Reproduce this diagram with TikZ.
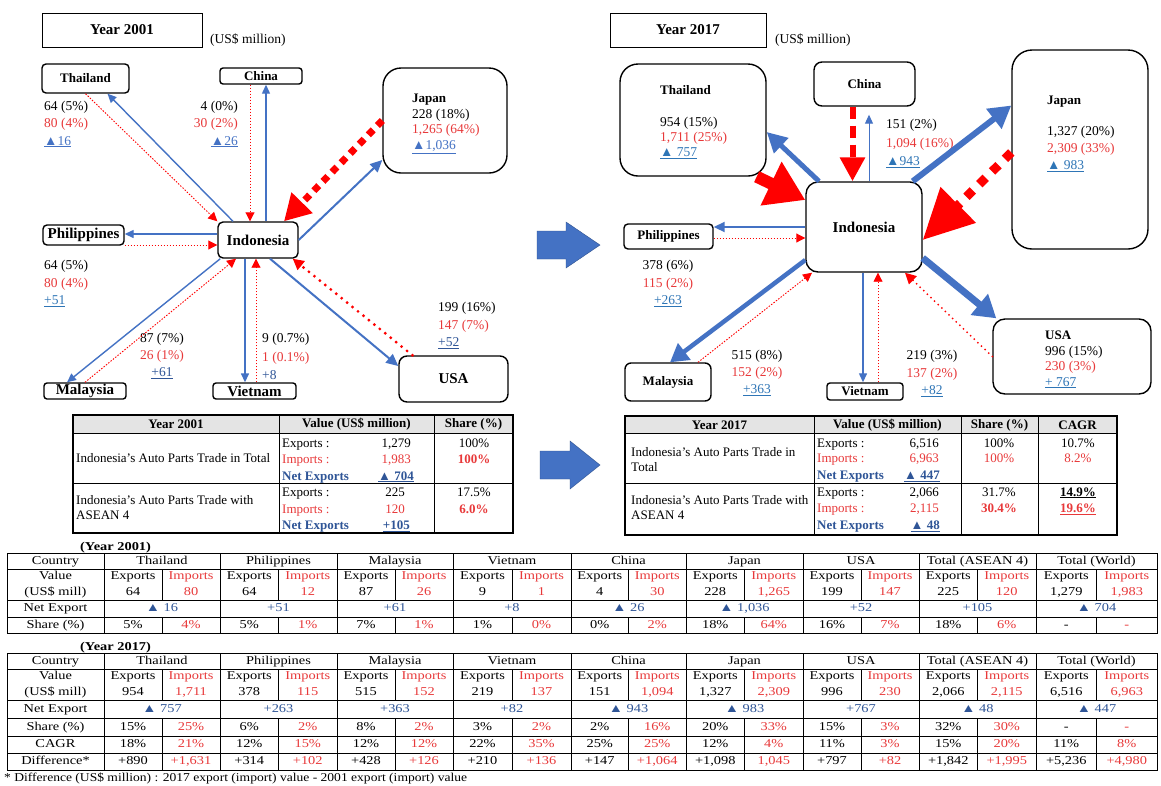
\documentclass[tikz,border=0pt]{standalone}
\usepackage{fontspec}
\setmainfont{Liberation Serif}
\newfontfamily\tblfont[FakeStretch=1.2]{Liberation Serif}
\newfontfamily\ftfont[FakeStretch=1.13]{Liberation Serif}
\usetikzlibrary{arrows.meta,calc}
\definecolor{ablue}{HTML}{4472C4}
\definecolor{ared}{HTML}{FF0000}
\definecolor{tred}{HTML}{E8393A}
\definecolor{tblue}{HTML}{2F5597}
\definecolor{lblue}{HTML}{2E75B6}
\definecolor{hgray}{HTML}{E4E4E4}
\definecolor{bdark}{HTML}{2F528F}
\newcommand\tri{▲}
\newcommand\stkl[1]{\begin{tabular}[t]{@{}l@{}}#1\end{tabular}}
\newcommand\stkr[1]{\begin{tabular}[t]{@{}r@{}}#1\end{tabular}}
\newcommand\stkc[1]{\begin{tabular}[t]{@{}c@{}}#1\end{tabular}}
\tikzset{
 cbox/.style={draw, line width=1.4pt, rounded corners=4pt, inner sep=0pt, fill=white, font=\bfseries\fontsize{13}{15}\selectfont},
 pbox/.style={draw, line width=1pt, inner sep=0pt, font=\bfseries\fontsize{15}{17}\selectfont},
 lab/.style={inner sep=0pt, anchor=base west, font=\fontsize{13.5}{17.5}\selectfont},
 labc/.style={lab, anchor=base},
 labr/.style={lab, anchor=base east},
 bth/.style={draw=ablue, line width=1.4pt, -{Triangle[length=9pt,width=8pt]}},
 rdot/.style={draw=ared, line width=0.9pt, dash pattern=on 1.5pt off 1.5pt, -{Triangle[length=9pt,width=9pt]}},
 tc/.style={inner sep=0pt, text height=8.5pt, text depth=2.5pt, font={\tblfont\fontsize{12}{14}\selectfont}},
 st/.style={inner sep=0pt, anchor=base west, font=\fontsize{13}{15}\selectfont},
 stc/.style={st, anchor=base},
 ste/.style={st, anchor=base east},
 sth/.style={inner sep=0pt, font=\bfseries\fontsize{13}{15}\selectfont},
 tl/.style={line width=0.8pt},
}
\begin{document}
\begin{tikzpicture}[x=1pt,y=-1pt]
\useasboundingbox (0,0) rectangle (1161,785);
\fill[white] (0,0) rectangle (1161,785);

% ================= LEFT DIAGRAM (2001) =================
\node[pbox, minimum width=160pt, minimum height=34pt] (yr1) at (122,30) {Year 2001};
\node[anchor=west, inner sep=0pt, font=\fontsize{13.5}{15}\selectfont] (usd1) at (210,40) {(US\$ million)};

\node[cbox, minimum width=87pt, minimum height=29pt] (th1) at (85.5,78.5) {Thailand};
\node[cbox, rounded corners=3pt, minimum width=82pt, minimum height=16pt] (ch1) at (261,76) {China};
\node[cbox, rounded corners=18pt, minimum width=124pt, minimum height=105pt] (jp1) at (445,120.5) {};
\node[cbox, rounded corners=5pt, minimum width=80pt, minimum height=36pt, font=\bfseries\fontsize{15}{17}\selectfont] (ind1) at (258,240) {Indonesia};
\node[cbox, minimum width=81pt, minimum height=20pt, font=\bfseries\fontsize{15}{17}\selectfont] (ph1) at (83.5,235) {Philippines};
\node[cbox, rounded corners=3pt, minimum width=82pt, minimum height=16pt, font=\bfseries\fontsize{15}{17}\selectfont] (my1) at (85,391) {Malaysia};
\node[cbox, rounded corners=3pt, minimum width=83pt, minimum height=16pt, font=\bfseries\fontsize{15}{17}\selectfont] (vn1) at (254.5,391) {Vietnam};
\node[cbox, rounded corners=8pt, minimum width=109pt, minimum height=46pt, font=\bfseries\fontsize{15}{17}\selectfont] (us1) at (453.5,379) {USA};

% labels
\node[lab] (lth1) at (44,110) {\stkl{64 (5\%)\\ \color{tred}80 (4\%)\\ \color{ablue}\underline{\tri16}}};
\node[labr] (lch1) at (238,110) {\stkr{4 (0\%)\\ \color{tred}30 (2\%)\\ \color{ablue}\underline{\tri26}}};
\node[lab, font=\fontsize{13.5}{15.6}\selectfont] (ljp1) at (412,102.5) {\stkl{{\fontsize{13}{15}\selectfont\bfseries Japan}\\228 (18\%)\\ \color{tred}1,265 (64\%)\\ \color{ablue}\underline{\tri1,036}}};
\node[lab] (lph1) at (44,269.5) {\stkl{64 (5\%)\\ \color{tred}80 (4\%)\\ \color{lblue}\underline{+51}}};
\node[labc, font=\fontsize{13.5}{17}\selectfont] (lmy1) at (162,342.5) {\stkc{87 (7\%)\\ \color{tred}26 (1\%)\\ \color{tblue}\underline{+61}}};
\node[lab, font=\fontsize{13.5}{18.5}\selectfont] (lvn1) at (262,342.5) {\stkl{9 (0.7\%)\\ \color{tred}1 (0.1\%)\\ \color{tblue}+8}};
\node[lab] (lus1) at (438,311.5) {\stkl{199 (16\%)\\ \color{tred}147 (7\%)\\ \color{tblue}\underline{+52}}};

% connectors
\draw[bth] ([xshift=-25pt]ind1.north) -- ([xshift=22pt]th1.south);
\draw[rdot] (th1.south) -- (ind1.north west);
\draw[rdot] ([xshift=-11pt]ch1.south) -- ([xshift=-11pt]ch1.south |- ind1.north);
\draw[bth, line width=1.2pt] ([xshift=5pt]ch1.south |- ind1.north) -- ([xshift=5pt]ch1.south);
\draw[draw=ared, line width=7pt, dash pattern=on 7pt off 6pt, -{Triangle[length=26pt,width=28pt]}] (jp1.west) -- ([xshift=26pt]ind1.north);
\draw[bth, line width=2pt, -{Triangle[length=12pt,width=11pt]}] (ind1.east) -- ([yshift=-39.5pt]jp1.west);
\draw[bth] ([yshift=6pt]ind1.west) -- ([yshift=6pt]ind1.west -| ph1.east);
\draw[rdot] ([yshift=-5pt]ind1.west -| ph1.east) -- ([yshift=-5pt]ind1.west);
\draw[bth] ([xshift=3pt]ind1.south west) -- ([xshift=-18pt]my1.north);
\draw[rdot] (my1.north) -- ([xshift=-22pt]ind1.south);
\draw[bth] ([xshift=-13pt]ind1.south) -- ([xshift=-13pt]ind1.south |- vn1.north);
\draw[rdot] ([xshift=-2pt]ind1.south |- vn1.north) -- ([xshift=-2pt]ind1.south);
\draw[bth, line width=2pt, -{Triangle[length=12pt,width=11pt]}] ([xshift=12pt]ind1.south) -- ([yshift=13pt]us1.west);
\draw[draw=ared, line width=3.2pt, line cap=round, dash pattern=on 0pt off 7pt, -{Triangle[length=11pt,width=11pt]}] ([xshift=-41pt]us1.north) -- ([xshift=-6pt]ind1.south east);

% big arrows
\fill[ablue, draw=bdark] (537,231) -- (566,231) -- (566,222) -- (600,245) -- (566,268) -- (566,259) -- (537,259) -- cycle;
\fill[ablue, draw=bdark] (540,451) -- (570,451) -- (570,441) -- (600,465) -- (570,489) -- (570,479) -- (540,479) -- cycle;

% ================= RIGHT DIAGRAM (2017) =================
\node[pbox, minimum width=156pt, minimum height=34pt] (yr2) at (688,30) {Year 2017};
\node[anchor=west, inner sep=0pt, font=\fontsize{13.5}{15}\selectfont] (usd2) at (775,40) {(US\$ million)};

\node[cbox, rounded corners=18pt, minimum width=146pt, minimum height=112pt] (th2) at (693,120) {};
\node[cbox, rounded corners=8pt, minimum width=101pt, minimum height=44pt] (cn2) at (864.5,84) {China};
\node[cbox, rounded corners=20pt, minimum width=136pt, minimum height=199pt] (jp2) at (1080,149.5) {};
\node[cbox, rounded corners=12pt, minimum width=116pt, minimum height=90pt, font=\bfseries\fontsize{15}{17}\selectfont] (ind2) at (864,227) {Indonesia};
\node[cbox, minimum width=89pt, minimum height=25pt] (ph2) at (668.5,236.5) {Philippines};
\node[cbox, rounded corners=6pt, minimum width=86pt, minimum height=38pt] (my2) at (668,382) {Malaysia};
\node[cbox, rounded corners=3pt, minimum width=76pt, minimum height=17pt] (vn2) at (865,391.5) {Vietnam};
\node[cbox, rounded corners=12pt, minimum width=158pt, minimum height=75pt] (us2) at (1072,356.5) {};

\node[lab, font=\bfseries\fontsize{13}{15}\selectfont] (tth2) at (660,94.5) {Thailand};
\node[lab, font=\fontsize{13.5}{15}\selectfont] (lth2) at (660,126.5) {\stkl{954 (15\%)\\ \color{tred}1,711 (25\%)\\ \color{lblue}\underline{\tri\ 757}}};
\node[lab, font=\fontsize{13.5}{18.5}\selectfont] (lcn2) at (886,128.5) {\stkl{151 (2\%)\\ \color{tred}1,094 (16\%)\\ \color{lblue}\underline{\tri943}}};
\node[lab, font=\bfseries\fontsize{13}{15}\selectfont] (tjp2) at (1047,104.5) {Japan};
\node[lab, font=\fontsize{13.5}{17}\selectfont] (ljp2) at (1047,135.5) {\stkl{1,327 (20\%)\\ \color{tred}2,309 (33\%)\\ \color{lblue}\underline{\tri\ 983}}};
\node[labc] (lph2) at (668,269.5) {\stkc{378 (6\%)\\ \color{tred}115 (2\%)\\ \color{lblue}\underline{+263}}};
\node[labc, font=\fontsize{13.5}{17}\selectfont] (lmy2) at (757,359.5) {\stkc{515 (8\%)\\ \color{tred}152 (2\%)\\ \color{lblue}\underline{+363}}};
\node[labc] (lvn2) at (932,359.5) {\stkc{219 (3\%)\\ \color{tred}137 (2\%)\\ \color{lblue}\underline{+82}}};
\node[lab, font=\fontsize{13.5}{15.5}\selectfont] (lus2) at (1045,339.5) {\stkl{{\fontsize{13}{15}\selectfont\bfseries USA}\\996 (15\%)\\ \color{tred}230 (3\%)\\ \color{lblue}\underline{+ 767}}};

% connectors
\draw[draw=ablue, line width=5pt, -{Triangle[length=20pt,width=20pt]}] ([xshift=-45pt]ind2.north) -- ([yshift=-12pt]th2.east);
\draw[draw=ared, line width=12pt, -{Triangle[length=38pt,width=46pt]}] ([xshift=-10pt]th2.south east) -- ([yshift=27pt]ind2.west);
\draw[draw=ared, line width=6pt, dash pattern=on 12pt off 7pt, -{Triangle[length=24pt,width=24pt]}] ([xshift=-12pt]cn2.south) -- ([xshift=-12pt]cn2.south |- ind2.north);
\draw[bth, line width=1pt, shorten >=8pt] ([xshift=4.5pt]cn2.south |- ind2.north) -- ([xshift=4.5pt]cn2.south);
\draw[draw=ablue, line width=6pt, -{Triangle[length=22pt,width=24pt]}] ([xshift=-10pt]ind2.north east) -- ([yshift=44pt]jp2.west);
\draw[draw=ared, line width=9pt, dash pattern=on 9pt off 9pt, -{Triangle[length=50pt,width=48pt]}] ([yshift=-3pt]jp2.west) -- ([yshift=-13pt]ind2.east);
\draw[bth, line width=2pt, -{Triangle[length=11pt,width=10pt]}] (ind2.west) -- (ind2.west -| ph2.east);
\draw[rdot] ([yshift=-11pt]ind2.west -| ph2.east) -- ([yshift=-11pt]ind2.west);
\draw[draw=ablue, line width=4.5pt, -{Triangle[length=18pt,width=20pt]}] ([yshift=-33pt]ind2.west) -- ([xshift=2pt]my2.north);
\draw[rdot] ([xshift=30pt]my2.north) -- ([xshift=-52pt]ind2.south);
\draw[bth, line width=1.3pt] ([xshift=-1pt]ind2.south) -- ([xshift=-1pt]ind2.south |- vn2.north);
\draw[rdot] ([xshift=14pt]ind2.south |- vn2.north) -- ([xshift=14pt]ind2.south);
\draw[draw=ablue, line width=7pt, -{Triangle[length=22pt,width=26pt]}] ([yshift=-31pt]ind2.east) -- ([xshift=4pt]us2.north west);
\draw[draw=ared, line width=2pt, line cap=round, dash pattern=on 0pt off 5pt, -{Triangle[length=11pt,width=11pt]}] (us2.west) -- ([xshift=41pt]ind2.south);

% ================= SUMMARY TABLE 2001 =================
\fill[hgray] (73,415) rectangle (513,433);
\draw[line width=1.2pt] (73,415) rectangle (513,533);
\draw[tl] (73,433) -- (513,433) (73,483) -- (513,483) (279,415) -- (279,533) (434,415) -- (434,533);
\node[sth] (h1a) at (176,424.5) {Year 2001};
\node[sth] (h1b) at (356.5,424.5) {Value (US\$ million)};
\node[sth] (h1c) at (473.5,424.5) {Share (\%)};
\node[st] (s1r1) at (76,462.5) {Indonesia's Auto Parts Trade in Total};
\node[st] (s1e1) at (282,447) {Exports :};
\node[ste] (s1e1v) at (411,447) {1,279};
\node[st, text=tred] (s1i1) at (282,463) {Imports :};
\node[ste, text=tred] (s1i1v) at (411,463) {1,983};
\node[st, text=tblue, font=\bfseries\fontsize{13}{15}\selectfont] (s1n1) at (282,480) {Net Exports};
\node[ste, text=tblue, font=\bfseries\fontsize{13}{15}\selectfont] (s1n1v) at (414,480) {\underline{\tri\ 704}};
\node[stc] (s1s1) at (474,447) {100\%};
\node[stc, text=tred, font=\bfseries\fontsize{13}{15}\selectfont] (s1s2) at (474,463) {100\%};
\node[st] (s1r2) at (76,504.5) {\stkl{Indonesia's Auto Parts Trade with\\ASEAN 4}};
\node[st] (s1e2) at (282,496) {Exports :};
\node[ste] (s1e2v) at (405,496) {225};
\node[st, text=tred] (s1i2) at (282,513) {Imports :};
\node[ste, text=tred] (s1i2v) at (405,513) {120};
\node[st, text=tblue, font=\bfseries\fontsize{13}{15}\selectfont] (s1n2) at (282,529.5) {Net Exports};
\node[ste, text=tblue, font=\bfseries\fontsize{13}{15}\selectfont] (s1n2v) at (410,529.5) {\underline{+105}};
\node[stc] (s1s3) at (474,496) {17.5\%};
\node[stc, text=tred, font=\bfseries\fontsize{13}{15}\selectfont] (s1s4) at (474,513) {6.0\%};

% ================= SUMMARY TABLE 2017 =================
\fill[hgray] (625,416) rectangle (1117,433);
\draw[line width=1.2pt] (625,416) rectangle (1117,535);
\draw[tl] (625,433) -- (1117,433) (625,483) -- (1117,483) (814,416) -- (814,535) (961,416) -- (961,535) (1038,416) -- (1038,535);
\node[sth] (h2a) at (719.5,425) {Year 2017};
\node[sth] (h2b) at (887.5,425) {Value (US\$ million)};
\node[sth] (h2c) at (999.5,425) {Share (\%)};
\node[sth] (h2d) at (1077.5,425) {CAGR};
\node[st] (s2r1) at (631,456) {\stkl{Indonesia's Auto Parts Trade in\\Total}};
\node[st] (s2e1) at (817,447) {Exports :};
\node[ste] (s2e1v) at (939,447) {6,516};
\node[st, text=tred] (s2i1) at (817,462.5) {Imports :};
\node[ste, text=tred] (s2i1v) at (939,462.5) {6,963};
\node[st, text=tblue, font=\bfseries\fontsize{13}{15}\selectfont] (s2n1) at (817,479.5) {Net Exports};
\node[ste, text=tblue, font=\bfseries\fontsize{13}{15}\selectfont] (s2n1v) at (940,479.5) {\underline{\tri\ 447}};
\node[stc] (s2s1) at (999,447) {100\%};
\node[stc, text=tred] (s2s2) at (999,462.5) {100\%};
\node[stc] (s2c1) at (1078,447) {10.7\%};
\node[stc, text=tred] (s2c2) at (1078,462.5) {8.2\%};
\node[st] (s2r2) at (631,504.5) {\stkl{Indonesia's Auto Parts Trade with\\ASEAN 4}};
\node[st] (s2e2) at (817,496) {Exports :};
\node[ste] (s2e2v) at (939,496) {2,066};
\node[st, text=tred] (s2i2) at (817,512.5) {Imports :};
\node[ste, text=tred] (s2i2v) at (939,512.5) {2,115};
\node[st, text=tblue, font=\bfseries\fontsize{13}{15}\selectfont] (s2n2) at (817,529.5) {Net Exports};
\node[ste, text=tblue, font=\bfseries\fontsize{13}{15}\selectfont] (s2n2v) at (940,529.5) {\underline{\tri\ 48}};
\node[stc] (s2s3) at (999,496) {31.7\%};
\node[stc, text=tred, font=\bfseries\fontsize{13}{15}\selectfont] (s2s4) at (999,512.5) {30.4\%};
\node[stc, font=\bfseries\fontsize{13}{15}\selectfont] (s2c3) at (1078,496) {\underline{14.9\%}};
\node[stc, text=tred, font=\bfseries\fontsize{13}{15}\selectfont] (s2c4) at (1078,512.5) {\underline{19.6\%}};

% ================= DETAIL TABLE 2001 =================
\node[anchor=base west, inner sep=0pt, font={\tblfont\bfseries\fontsize{12}{14}\selectfont}] (y01) at (80,550) {(Year 2001)};
\draw[line width=1pt] (7,553) rectangle (1157,633);
\draw[tl] (7,569) -- (1157,569) (7,600) -- (1157,600) (7,617) -- (1157,617);
\foreach \x in {104,220,337,453,571,686,803,919,1036} \draw[tl] (\x,553) -- (\x,633);
\node[tc] (a0c) at (55.5,561) {Country};
\node[tc] (a0v) at (55.5,576.5) {Value};
\node[tc] (a0u) at (55.5,592) {(US\$ mill)};
\node[tc] (a0n) at (55.5,608.5) {Net Export};
\node[tc] (a0s) at (55.5,625) {Share (\%)};
\foreach \l/\r/\cn/\ex/\im/\nt/\se/\si [count=\i] in {
104/220/Thailand/64/80/{\tri\ 16}/5\%/4\%,
220/337/Philippines/64/12/+51/5\%/1\%,
337/453/Malaysia/87/26/+61/7\%/1\%,
453/571/Vietnam/9/1/+8/1\%/0\%,
571/686/China/4/30/{\tri\ 26}/0\%/2\%,
686/803/Japan/228/{1,265}/{\tri\ 1,036}/18\%/64\%,
803/919/USA/199/147/+52/16\%/7\%,
919/1036/Total (ASEAN 4)/225/120/+105/18\%/6\%,
1036/1157/Total (World)/{1,279}/{1,983}/{\tri\ 704}/-/-}
{
 \pgfmathsetmacro\m{(\l+\r)/2}
 \pgfmathsetmacro\a{(\l+\m)/2}
 \pgfmathsetmacro\b{(\m+\r)/2}
 \draw[tl] (\m,569) -- (\m,600) (\m,617) -- (\m,633);
 \node[tc] (a\i c) at (\m,561) {\cn};
 \node[tc] (a\i h) at (\a,576.5) {Exports};
 \node[tc, text=tred] (a\i g) at (\b,576.5) {Imports};
 \node[tc] (a\i e) at (\a,592) {\ex};
 \node[tc, text=tred] (a\i i) at (\b,592) {\im};
 \node[tc, text=tblue] (a\i n) at (\m,608.5) {\nt};
 \node[tc] (a\i s) at (\a,625) {\se};
 \node[tc, text=tred] (a\i t) at (\b,625) {\si};
}

% ================= DETAIL TABLE 2017 =================
\node[anchor=base west, inner sep=0pt, font={\tblfont\bfseries\fontsize{12}{14}\selectfont}] (y17) at (80,650) {(Year 2017)};
\draw[line width=1pt] (7,653) rectangle (1157,770);
\draw[tl] (7,669) -- (1157,669) (7,700) -- (1157,700) (7,718) -- (1157,718) (7,736) -- (1157,736) (7,753) -- (1157,753);
\foreach \x in {104,220,337,453,571,686,803,919,1036} \draw[tl] (\x,653) -- (\x,770);
\node[tc] (b0c) at (55.5,661) {Country};
\node[tc] (b0v) at (55.5,676.5) {Value};
\node[tc] (b0u) at (55.5,692) {(US\$ mill)};
\node[tc] (b0n) at (55.5,709) {Net Export};
\node[tc] (b0s) at (55.5,727) {Share (\%)};
\node[tc] (b0g) at (55.5,744.5) {CAGR};
\node[tc] (b0d) at (55.5,761.5) {Difference*};
\foreach \l/\r/\cn/\ex/\im/\nt/\se/\si/\ge/\gi/\de/\di [count=\i] in {
104/220/Thailand/954/{1,711}/{\tri\ 757}/15\%/25\%/18\%/21\%/+890/{+1,631},
220/337/Philippines/378/115/+263/6\%/2\%/12\%/15\%/+314/+102,
337/453/Malaysia/515/152/+363/8\%/2\%/12\%/12\%/+428/+126,
453/571/Vietnam/219/137/+82/3\%/2\%/22\%/35\%/+210/+136,
571/686/China/151/{1,094}/{\tri\ 943}/2\%/16\%/25\%/25\%/+147/{+1,064},
686/803/Japan/{1,327}/{2,309}/{\tri\ 983}/20\%/33\%/12\%/4\%/{+1,098}/{1,045},
803/919/USA/996/230/+767/15\%/3\%/11\%/3\%/+797/+82,
919/1036/Total (ASEAN 4)/{2,066}/{2,115}/{\tri\ 48}/32\%/30\%/15\%/20\%/{+1,842}/{+1,995},
1036/1157/Total (World)/{6,516}/{6,963}/{\tri\ 447}/-/-/11\%/8\%/{+5,236}/{+4,980}}
{
 \pgfmathsetmacro\m{(\l+\r)/2}
 \pgfmathsetmacro\a{(\l+\m)/2}
 \pgfmathsetmacro\b{(\m+\r)/2}
 \draw[tl] (\m,669) -- (\m,700) (\m,718) -- (\m,770);
 \node[tc] (b\i c) at (\m,661) {\cn};
 \node[tc] (b\i h) at (\a,676.5) {Exports};
 \node[tc, text=tred] (b\i g) at (\b,676.5) {Imports};
 \node[tc] (b\i e) at (\a,692) {\ex};
 \node[tc, text=tred] (b\i i) at (\b,692) {\im};
 \node[tc, text=tblue] (b\i n) at (\m,709) {\nt};
 \node[tc] (b\i s) at (\a,727) {\se};
 \node[tc, text=tred] (b\i t) at (\b,727) {\si};
 \node[tc] (b\i x) at (\a,744.5) {\ge};
 \node[tc, text=tred] (b\i y) at (\b,744.5) {\gi};
 \node[tc] (b\i z) at (\a,761.5) {\de};
 \node[tc, text=tred] (b\i w) at (\b,761.5) {\di};
}
\node[anchor=base west, inner sep=0pt, font={\ftfont\fontsize{12}{14}\selectfont}] (foot) at (4,781) {* Difference (US\$ million) : 2017 export (import) value - 2001 export (import) value};
\end{tikzpicture}
\end{document}
